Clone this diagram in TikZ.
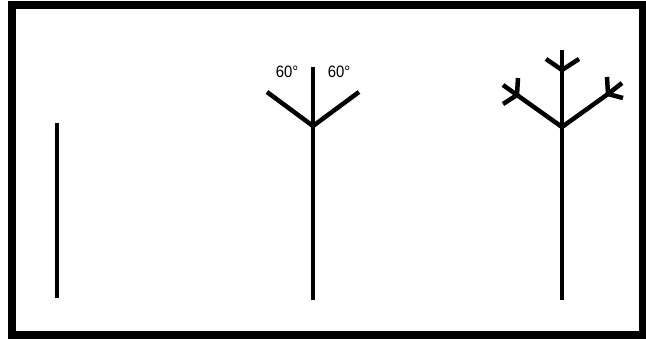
\documentclass[tikz,border=0pt]{standalone}
\usepackage{fontspec}
\setmainfont{Liberation Sans}
\begin{document}
\begin{tikzpicture}[x=1pt,y=-1pt,
  stem/.style={line width=3.5pt},
  twig/.style={line width=4.5pt},
  lbl/.style={font=\fontsize{16.5}{16.5}\selectfont, inner sep=0pt, xscale=0.9}]
\useasboundingbox (0,0) rectangle (646,339);
\fill[black] (8,1) rectangle (646,339);
\fill[white] (16,9) rectangle (639,331);
% stage 1
\coordinate (a0) at (57,298);
\coordinate (a1) at (57,123);
\draw[stem] (a0) -- (a1);
% stage 2
\coordinate (b0) at (313,300);
\coordinate (bj) at (313,126);
\coordinate (bt) at (313,67);
\coordinate (bl) at (267,92);
\coordinate (br) at (359,92);
\draw[stem] (b0) -- (bt);
\draw[twig] (bl) -- (bj) -- (br);
\node[lbl] (l1) at (287,72) {60°};
\node[lbl] (l2) at (339,72) {60°};
% stage 3
\coordinate (c0) at (562,300);
\coordinate (cj) at (562,127);
\coordinate (cm) at (562,70);
\coordinate (ct) at (562,50);
\coordinate (cml) at (546,59);
\coordinate (cmr) at (579,59);
\coordinate (cl) at (517,95);
\coordinate (clu) at (518,78);
\coordinate (cla) at (503,85);
\coordinate (cld) at (503,104);
\coordinate (cr) at (608,94);
\coordinate (cru) at (607,77);
\coordinate (cra) at (622,83);
\coordinate (crd) at (623,98);
\draw[stem] (c0) -- (cj);
\draw[twig] (cj) -- (cm) -- (ct);
\draw[twig] (cml) -- (cm) -- (cmr);
\draw[twig] (cj) -- (cl) -- (cla);
\draw[twig] (clu) -- (cl) -- (cld);
\draw[twig] (cj) -- (cr) -- (cra);
\draw[twig] (cru) -- (cr) -- (crd);
\end{tikzpicture}
\end{document}
